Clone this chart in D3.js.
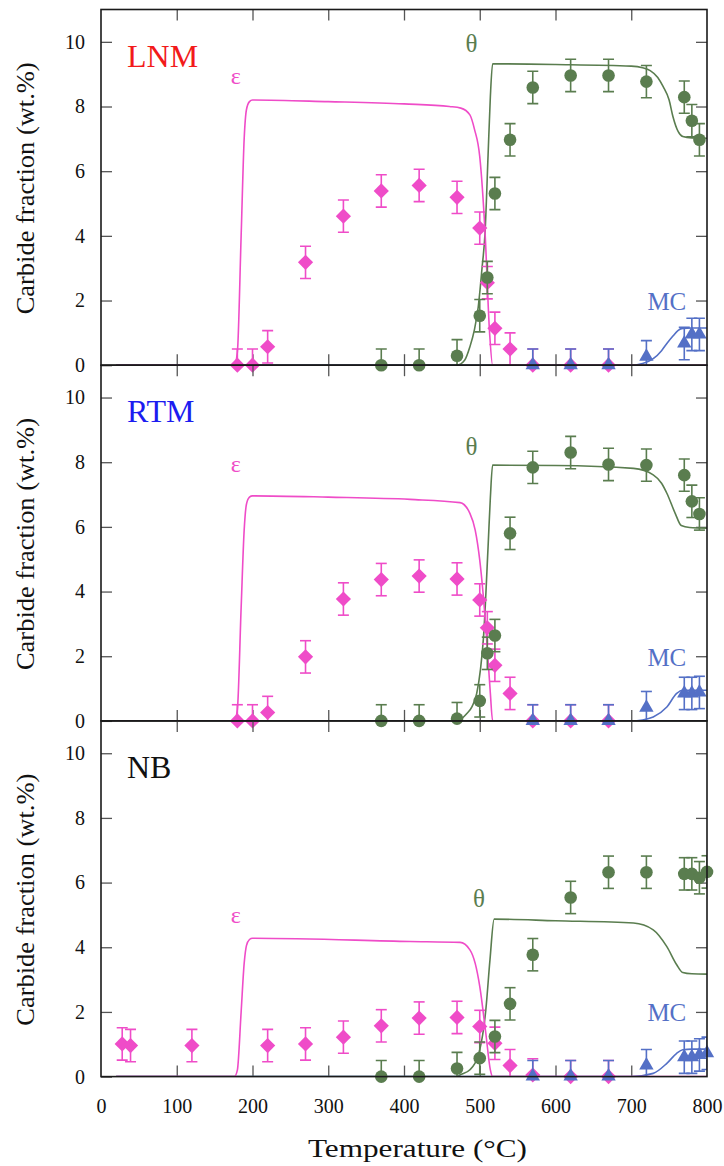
<!DOCTYPE html>
<html><head><meta charset="utf-8">
<script src="https://cdn.jsdelivr.net/npm/d3@7"></script>
<style>body{margin:0;background:#fff}svg{display:block;font-family:"Liberation Serif","Times New Roman",serif}text{font-family:"Liberation Serif","Times New Roman",serif}</style>
</head><body><svg id="c" width="724" height="1166"></svg>
<script>
// ---------- data ----------
const panels = ["LNM", "RTM", "NB"];
const xTicks = [0, 100, 200, 300, 400, 500, 600, 700, 800];
const yTicks = [0, 2, 4, 6, 8, 10];
const seriesNames = ["ε", "θ", "MC"];
const errorHalf = 0.5; // wt.%

// measured points (temperature °C, carbide fraction wt.%)
const lnmEpsT   = [180, 200, 220, 270, 320, 370, 420, 470, 500, 510, 520, 540, 570, 620, 670];
const lnmEps    = [0, 0, 0.57, 3.18, 4.61, 5.39, 5.56, 5.19, 4.24, 2.55, 1.14, 0.5, 0, 0, 0];
const lnmThetaT = [370, 420, 470, 500, 510, 520, 540, 570, 620, 670, 720, 770, 780, 790];
const lnmTheta  = [0, 0, 0.29, 1.53, 2.71, 5.31, 6.97, 8.59, 8.96, 8.96, 8.77, 8.29, 7.56, 6.97];
const lnmMcT    = [570, 620, 670, 720, 770, 780, 790];
const lnmMc     = [0, 0, 0, 0.26, 0.67, 0.95, 0.95];

const rtmEpsT   = [180, 200, 220, 270, 320, 370, 420, 470, 500, 510, 520, 540, 570, 620, 670];
const rtmEps    = [0, 0, 0.26, 1.98, 3.77, 4.37, 4.48, 4.39, 3.74, 2.88, 1.72, 0.85, 0, 0, 0];
const rtmThetaT = [370, 420, 470, 500, 510, 520, 540, 570, 620, 670, 720, 770, 780, 790];
const rtmTheta  = [0, 0, 0.07, 0.62, 2.09, 2.64, 5.80, 7.84, 8.30, 7.93, 7.91, 7.60, 6.79, 6.40];
const rtmMcT    = [570, 620, 670, 720, 770, 780, 790];
const rtmMc     = [0, 0, 0, 0.41, 0.85, 0.85, 0.88];

const nbEpsT    = [28, 39, 120, 220, 270, 320, 370, 420, 470, 500, 520, 540, 570, 620, 670];
const nbEps     = [1.01, 0.96, 0.96, 0.96, 1.01, 1.22, 1.57, 1.81, 1.83, 1.55, 1.03, 0.34, 0.05, 0, 0];
const nbThetaT  = [370, 420, 470, 500, 520, 540, 570, 620, 670, 720, 770, 780, 790, 800];
const nbTheta   = [0, 0, 0.25, 0.57, 1.24, 2.25, 3.77, 5.54, 6.32, 6.32, 6.27, 6.27, 6.15, 6.33];
const nbMcT     = [570, 620, 670, 720, 770, 780, 790, 800];
const nbMc      = [0, 0, 0, 0.34, 0.60, 0.60, 0.67, 0.72];

// model curves [temperature, wt.%]
const lnmEpsCurve = [[20,0],[176,0],[180,0.4],[185,4.0],[189,7.0],[192,7.9],[196,8.15],[200,8.2],[300,8.15],[400,8.08],[460,8.0],[475,7.95],[487,7.74],[493,7.3],[500,6.45],[507,4.1],[513,1.0],[517,0],[800,0]];
const lnmThetaCurve = [[20,0],[470,0],[480,0.15],[487,0.57],[493,1.1],[498,1.8],[503,3.0],[507,4.1],[511,6.5],[514,8.3],[517,9.32],[600,9.3],[700,9.25],[715,9.2],[725,9.11],[735,8.9],[742,8.62],[750,8.2],[755,7.69],[762,7.22],[768,7.07],[780,7.03],[800,7.02]];
const lnmMcCurve = [[20,0],[700,0],[715,0.05],[729,0.2],[740,0.45],[747,0.67],[755,0.9],[762,1.08],[768,1.14],[780,1.15],[800,1.15]];

const rtmEpsCurve = [[20,0],[176,0],[180,0.35],[185,3.5],[189,5.9],[192,6.7],[196,6.92],[200,6.96],[300,6.92],[408,6.85],[474,6.75],[487,6.42],[494,5.9],[500,4.97],[508,2.91],[514,0.85],[517,0],[800,0]];
const rtmThetaCurve = [[20,0],[470,0],[483,0.23],[490,0.45],[496,0.85],[501,1.6],[505,2.6],[511,5.39],[514,6.9],[517,7.91],[600,7.9],[703,7.81],[729,7.61],[740,7.35],[747,7.04],[758,6.42],[766,6.04],[777,5.98],[800,5.96]];
const rtmMcCurve = [[20,0],[700,0],[715,0.03],[729,0.12],[747,0.43],[760,0.85],[768,0.95],[800,0.95]];

const nbEpsCurve = [[20,0],[176,0],[180,0.2],[185,2.0],[189,3.5],[192,4.05],[196,4.24],[200,4.28],[408,4.18],[474,4.15],[487,3.92],[494,3.5],[500,2.79],[508,1.34],[514,0.21],[517,0],[800,0]];
const nbThetaCurve = [[20,0],[470,0],[474,0.05],[487,0.21],[500,0.83],[508,2.06],[513.5,3.61],[519,4.87],[600,4.82],[703,4.75],[729,4.54],[747,4.02],[760,3.46],[768,3.22],[780,3.18],[800,3.17]];
const nbMcCurve = [[20,0],[700,0],[729,0.1],[747,0.41],[760,0.72],[768,0.83],[780,0.85],[800,0.85]];

// annotation anchors in data units [T, wt.%]
const epsLabelAt   = [[178, 8.71], [178, 7.70], [178, 4.74]];
const thetaLabelAt = [[489, 9.69], [489, 8.22], [499, 5.24]];
const mcLabelAt    = [[747, 1.70], [747, 1.69], [747, 1.73]];

// ---------- styles / layout ----------
const colors = { eps: "#ef4cc8", theta: "#5a7d4f", mc: "#5470c6" };
const panelLabelColors = ["#f21a1a", "#1c1cf0", "#111111"];
const L = 101, R = 707, top0 = 9.5, PH = 355.7;
const FONT = "Liberation Serif";

const panelData = [
  { eps: [lnmEpsT, lnmEps], theta: [lnmThetaT, lnmTheta], mc: [lnmMcT, lnmMc], curves: [lnmEpsCurve, lnmThetaCurve, lnmMcCurve] },
  { eps: [rtmEpsT, rtmEps], theta: [rtmThetaT, rtmTheta], mc: [rtmMcT, rtmMc], curves: [rtmEpsCurve, rtmThetaCurve, rtmMcCurve] },
  { eps: [nbEpsT, nbEps], theta: [nbThetaT, nbTheta], mc: [nbMcT, nbMc], curves: [nbEpsCurve, nbThetaCurve, nbMcCurve] }
];

const svg = d3.select("#c");
const x = d3.scaleLinear().domain([0, 800]).range([L, R]);

const diamond = { draw(ctx, s) { const r = 7.6; ctx.moveTo(0, -r); ctx.lineTo(r, 0); ctx.lineTo(0, r); ctx.lineTo(-r, 0); ctx.closePath(); } };
const triangle = { draw(ctx, s) { ctx.moveTo(0, -8.5); ctx.lineTo(7.2, 4); ctx.lineTo(-7.2, 4); ctx.closePath(); } };

panels.forEach((name, i) => {
  const top = top0 + i * PH, bot = top + PH;
  const y = d3.scaleLinear().domain([0, 11]).range([bot, top]);
  const g = svg.append("g").attr("font-family", FONT);
  const pd = panelData[i];

  const clipId = "clip" + i;
  svg.append("clipPath").attr("id", clipId).append("rect")
    .attr("x", L).attr("y", top).attr("width", R - L).attr("height", PH);

  // axes (inward ticks)
  const tickStyle = sel => {
    sel.attr("font-family", FONT).attr("font-size", 20);
    sel.select(".domain").remove();
    sel.selectAll(".tick line").attr("stroke", "#555").attr("stroke-width", 1.3);
    sel.selectAll("text").attr("fill", "#111");
  };
  g.append("g").attr("transform", `translate(${L},0)`)
    .call(d3.axisLeft(y).tickValues(yTicks).tickSize(-11).tickPadding(16).tickFormat(d3.format("d")))
    .call(tickStyle);
  g.append("g").attr("transform", `translate(${R},0)`)
    .call(d3.axisRight(y).tickValues(yTicks.slice(1)).tickSize(-11).tickFormat(""))
    .call(tickStyle);
  g.append("g").attr("transform", `translate(0,${top})`)
    .call(d3.axisTop(x).tickValues(xTicks.slice(1, -1)).tickSize(-11).tickFormat(""))
    .call(tickStyle);
  const bx = g.append("g").attr("transform", `translate(0,${bot})`)
    .call(d3.axisBottom(x).tickValues(xTicks).tickSize(-11).tickPadding(22).tickFormat(i === 2 ? d3.format("d") : ""))
    .call(tickStyle);
  bx.selectAll(".tick").filter(d => d === 0 || d === 800).select("line").remove();

  // y label
  g.append("text").attr("transform", `translate(34,${(top + bot) / 2 + 1}) rotate(-90)`)
    .attr("text-anchor", "middle").attr("font-size", 25).attr("fill", "#111")
    .attr("textLength", 252).attr("lengthAdjust", "spacingAndGlyphs")
    .text("Carbide fraction (wt.%)");

  // curves
  const line = d3.line().x(d => x(d[0])).y(d => y(d[1])).curve(d3.curveMonotoneX);
  const cg = g.append("g").attr("clip-path", `url(#${clipId})`);
  [[pd.curves[1], colors.theta], [pd.curves[2], colors.mc], [pd.curves[0], colors.eps]].forEach(([c, col]) => {
    cg.append("path").attr("d", line(c)).attr("fill", "none").attr("stroke", col).attr("stroke-width", 1.6);
  });

  // markers with error bars
  const drawSeries = (Ts, Vs, col, sym) => {
    const pts = Ts.map((t, k) => ({ t, v: Vs[k] }));
    const eg = g.append("g").attr("clip-path", `url(#${clipId})`).attr("stroke", col).attr("stroke-width", 1.6);
    pts.forEach(p => {
      const cx = x(p.t), y1 = y(p.v + errorHalf), y0 = y(p.v - errorHalf);
      eg.append("line").attr("x1", cx).attr("x2", cx).attr("y1", y0).attr("y2", y1);
      eg.append("line").attr("x1", cx - 5.5).attr("x2", cx + 5.5).attr("y1", y1).attr("y2", y1);
      eg.append("line").attr("x1", cx - 5.5).attr("x2", cx + 5.5).attr("y1", y0).attr("y2", y0);
    });
    const mg = g.append("g").attr("fill", col);
    pts.forEach(p => {
      if (sym === "circle") mg.append("circle").attr("cx", x(p.t)).attr("cy", y(p.v)).attr("r", 6.3);
      else mg.append("path").attr("transform", `translate(${x(p.t)},${y(p.v)})`).attr("d", d3.symbol().type(sym)());
    });
  };
  drawSeries(pd.eps[0], pd.eps[1], colors.eps, diamond);
  drawSeries(pd.theta[0], pd.theta[1], colors.theta, "circle");
  drawSeries(pd.mc[0], pd.mc[1], colors.mc, triangle);

  // frame
  g.append("rect").attr("x", L).attr("y", top).attr("width", R - L).attr("height", PH)
    .attr("fill", "none").attr("stroke", "#1a1a1a").attr("stroke-width", 1.6);

  // labels
  g.append("text").attr("x", 127).attr("y", top + 57).attr("font-size", 32).attr("fill", panelLabelColors[i]).text(name);
  g.append("text").attr("x", x(epsLabelAt[i][0])).attr("y", y(epsLabelAt[i][1])).attr("text-anchor", "middle")
    .attr("font-size", 24).attr("fill", colors.eps).text(seriesNames[0]);
  g.append("text").attr("x", x(thetaLabelAt[i][0])).attr("y", y(thetaLabelAt[i][1])).attr("text-anchor", "middle")
    .attr("font-size", 25).attr("fill", colors.theta).text(seriesNames[1]);
  g.append("text").attr("x", x(mcLabelAt[i][0])).attr("y", y(mcLabelAt[i][1])).attr("text-anchor", "middle")
    .attr("font-size", 25).attr("fill", colors.mc).text(seriesNames[2]);
});

svg.append("text").attr("x", 417.5).attr("y", 1157).attr("text-anchor", "middle")
  .attr("font-family", FONT).attr("font-size", 25).attr("fill", "#111")
  .attr("textLength", 219).attr("lengthAdjust", "spacingAndGlyphs")
  .text("Temperature (°C)");
</script>
</body></html>
